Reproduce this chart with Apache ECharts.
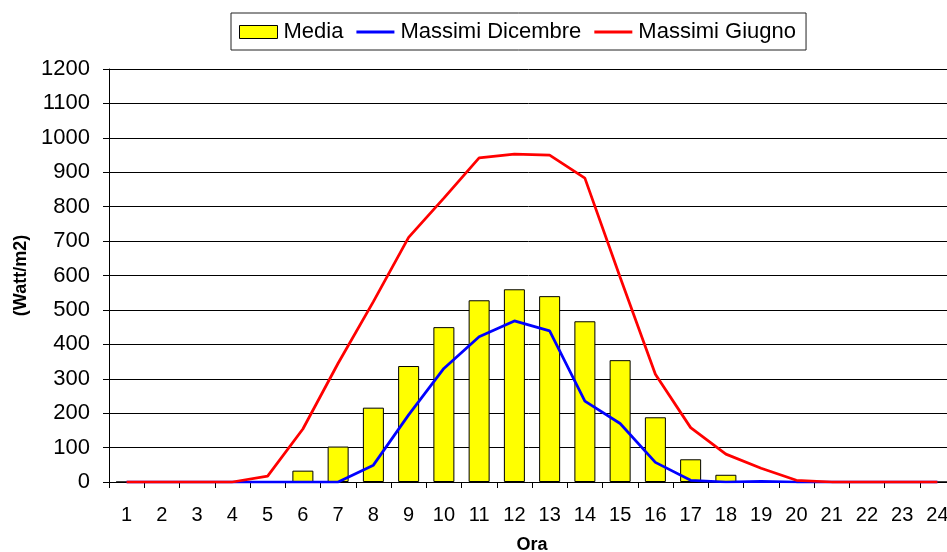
<!DOCTYPE html>
<html>
<head>
<meta charset="utf-8">
<script src="https://cdn.jsdelivr.net/npm/echarts@6/dist/echarts.min.js"></script>
<style>html,body{margin:0;padding:0;background:#fff}#c{width:947px;height:552px}</style>
</head>
<body>
<div id="c"></div>
<script>
const categories = ['1','2','3','4','5','6','7','8','9','10','11','12','13','14','15','16','17','18','19','20','21','22','23','24'];
const media = [0,0,0,0,0,33,103,216,337,450,528,560,540,467,354,188,66,21,3,0,0,0,0,0];
const massimiDicembre = [0,0,0,0,0,0,0,49,195,330,422,468,439,235,170,57,5,0,2,0,0,0,0,0];
const massimiGiugno = [0,0,0,0,17,154,345,524,711,825,942,953,950,883,595,313,158,81,40,5,0,0,0,0];
const yTicks = [0,100,200,300,400,500,600,700,800,900,1000,1100,1200];

const chart = echarts.init(document.getElementById('c'));
const font = 'Liberation Sans, Arial, sans-serif';
const lineIcon = 'path://M0,0 M38,13 M0,5 L38,5 L38,8 L0,8 Z';
chart.setOption({
  animation: false,
  backgroundColor: '#fff',
  textStyle: {fontFamily: font},
  legend: {
    top: 13, left: 231,
    itemGap: 13,
    padding: [8, 10, 7, 8],
    borderColor: '#222', borderWidth: 1,
    itemWidth: 38, itemHeight: 13,
    textStyle: {fontSize: 22, color: '#000', fontFamily: font, padding: [0,0,0,1]},
    data: [
      {name: 'Media', icon: 'rect', itemStyle: {color: '#ffff00', borderColor: '#000', borderWidth: 1}},
      {name: 'Massimi Dicembre', icon: lineIcon, itemStyle: {color: '#0000ff', borderWidth: 0}},
      {name: 'Massimi Giugno', icon: lineIcon, itemStyle: {color: '#ff0000', borderWidth: 0}}
    ]
  },
  grid: {left: 109, right: -8, top: 69, bottom: 70, containLabel: false, outerBoundsMode: 'none'},
  xAxis: {
    type: 'category',
    data: categories,
    boundaryGap: true,
    name: 'Ora', nameLocation: 'middle', nameGap: 54,
    nameTextStyle: {fontSize: 18, fontWeight: 'bold', color: '#000', fontFamily: font},
    axisLine: {lineStyle: {color: '#000', width: 1}},
    axisTick: {show: true, alignWithLabel: false, length: 6, lineStyle: {color: '#000'}},
    axisLabel: {fontSize: 20, color: '#000', margin: 23, fontFamily: font, interval: 0},
    splitLine: {show: false}
  },
  yAxis: {
    type: 'value',
    min: yTicks[0], max: yTicks[yTicks.length - 1], interval: 100,
    name: '(Watt/m2)', nameLocation: 'middle', nameGap: 78, nameRotate: 90,
    nameTextStyle: {fontSize: 18, fontWeight: 'bold', color: '#000', fontFamily: font},
    axisLine: {show: true, lineStyle: {color: '#000', width: 1}},
    axisTick: {show: true, length: 6, lineStyle: {color: '#000'}},
    axisLabel: {fontSize: 22, color: '#000', margin: 19, fontFamily: font, formatter: v => String(v)},
    splitLine: {show: true, lineStyle: {color: '#000', width: 1}}
  },
  series: [
    {
      name: 'Media', type: 'bar', data: media, barWidth: 21,
      itemStyle: {color: '#ffff00', borderColor: '#000', borderWidth: 1}
    },
    {
      name: 'Massimi Dicembre', type: 'line', data: massimiDicembre,
      showSymbol: false, symbol: 'none',
      lineStyle: {color: '#0000ff', width: 2.75}, itemStyle: {color: '#0000ff'}
    },
    {
      name: 'Massimi Giugno', type: 'line', data: massimiGiugno,
      showSymbol: false, symbol: 'none',
      lineStyle: {color: '#ff0000', width: 2.75}, itemStyle: {color: '#ff0000'}
    }
  ]
});
</script>
</body>
</html>
